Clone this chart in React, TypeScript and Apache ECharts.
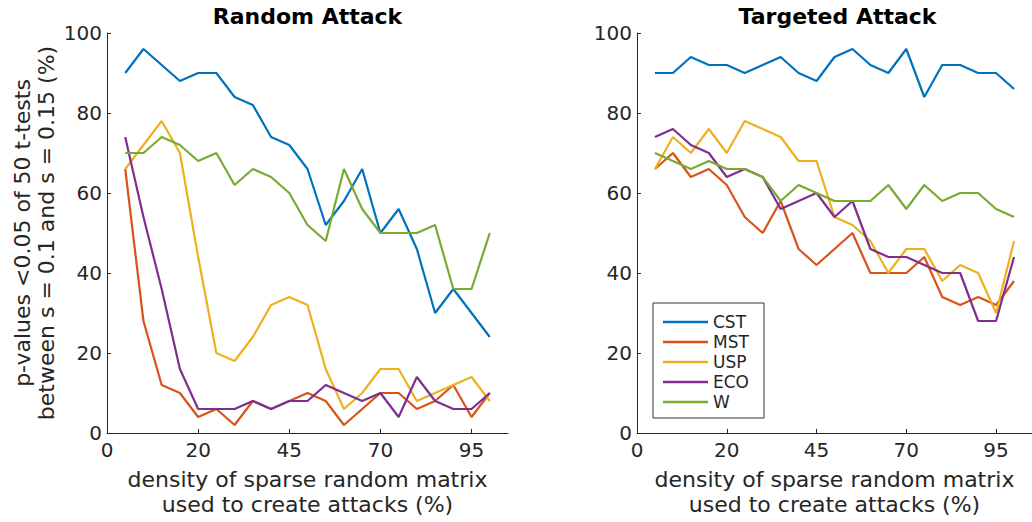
import React, { useEffect, useRef } from "react";
import * as echarts from "echarts";

// x positions of the 21 density steps (plotted on an index axis)
const xPos = [1, 2, 3, 4, 5, 6, 7, 8, 9, 10, 11, 12, 13, 14, 15, 16, 17, 18, 19, 20, 21];
const tickPos = [0, 5, 10, 15, 20];
const tickLabels = ["0", "20", "45", "70", "95"];

const methods = ["CST", "MST", "USP", "ECO", "W"];
const colors = ["#0072BD", "#D95319", "#EDB120", "#7E2F8E", "#77AC30"];

// Random attack
const randomCST = [90, 96, 92, 88, 90, 90, 84, 82, 74, 72, 66, 52, 58, 66, 50, 56, 46, 30, 36, 30, 24];
const randomMST = [66, 28, 12, 10, 4, 6, 2, 8, 6, 8, 10, 8, 2, 6, 10, 10, 6, 8, 12, 4, 10];
const randomUSP = [66, 72, 78, 70, 44, 20, 18, 24, 32, 34, 32, 16, 6, 10, 16, 16, 8, 10, 12, 14, 8];
const randomECO = [74, 54, 36, 16, 6, 6, 6, 8, 6, 8, 8, 12, 10, 8, 10, 4, 14, 8, 6, 6, 10];
const randomW = [70, 70, 74, 72, 68, 70, 62, 66, 64, 60, 52, 48, 66, 56, 50, 50, 50, 52, 36, 36, 50];

// Targeted attack
const targetCST = [90, 90, 94, 92, 92, 90, 92, 94, 90, 88, 94, 96, 92, 90, 96, 84, 92, 92, 90, 90, 86];
const targetMST = [66, 70, 64, 66, 62, 54, 50, 58, 46, 42, 46, 50, 40, 40, 40, 44, 34, 32, 34, 32, 38];
const targetUSP = [66, 74, 70, 76, 70, 78, 76, 74, 68, 68, 54, 52, 48, 40, 46, 46, 38, 42, 40, 30, 48];
const targetECO = [74, 76, 72, 70, 64, 66, 64, 56, 58, 60, 54, 58, 46, 44, 44, 42, 40, 40, 28, 28, 44];
const targetW = [70, 68, 66, 68, 66, 66, 64, 58, 62, 60, 58, 58, 58, 62, 56, 62, 58, 60, 60, 56, 54];

const randomData = [randomCST, randomMST, randomUSP, randomECO, randomW];
const targetData = [targetCST, targetMST, targetUSP, targetECO, targetW];

const yTitle = "p-values <0.05 of 50 t-tests\nbetween s = 0.1 and s = 0.15 (%)";
const xTitle = "density of sparse random matrix\nused to create attacks (%)";
const panelTitles = ["Random Attack", "Targeted Attack"];

const FONT = "DejaVu Sans";
const TXT = "#262626";

export default function App() {
  const ref = useRef<HTMLDivElement>(null);
  useEffect(() => {
    if (!ref.current) return;
    const chart = echarts.init(ref.current, null, { renderer: "svg" });
    const gridLefts = [107, 637];
    const mkX = (i: number) => ({
      type: "value",
      gridIndex: i,
      min: 0,
      max: 22,
      axisLine: { show: true, lineStyle: { color: TXT, width: 1 } },
      axisTick: { show: true, inside: true, length: 4, customValues: tickPos, lineStyle: { color: TXT } },
      axisLabel: {
        customValues: tickPos,
        formatter: (v: number) => tickLabels[tickPos.indexOf(v)] ?? "",
        color: TXT,
        fontFamily: FONT,
        fontSize: 20,
        margin: 7,
      },
      splitLine: { show: false },
      name: xTitle,
      nameLocation: "middle",
      nameGap: 34,
      nameTextStyle: { color: TXT, fontFamily: FONT, fontSize: 22, lineHeight: 25 },
    });
    const mkY = (i: number) => ({
      type: "value",
      gridIndex: i,
      min: 0,
      max: 100,
      interval: 20,
      axisLine: { show: true, lineStyle: { color: TXT, width: 1 } },
      axisTick: { show: true, inside: true, length: 4, lineStyle: { color: TXT } },
      axisLabel: { color: TXT, fontFamily: FONT, fontSize: 20, margin: 5 },
      splitLine: { show: false },
      ...(i === 0
        ? {
            name: yTitle,
            nameLocation: "middle",
            nameGap: 49,
            nameRotate: 90,
            nameTextStyle: { color: TXT, fontFamily: FONT, fontSize: 22, lineHeight: 24 },
          }
        : {}),
    });
    const series: any[] = [];
    [randomData, targetData].forEach((panel, p) => {
      panel.forEach((vals, k) => {
        series.push({
          type: "line",
          name: methods[k],
          xAxisIndex: p,
          yAxisIndex: p,
          data: xPos.map((x, j) => [x, vals[j]]),
          symbol: "none",
          lineStyle: { color: colors[k], width: 2.2 },
          itemStyle: { color: colors[k] },
        });
      });
    });
    chart.setOption({
      animation: false,
      backgroundColor: "#ffffff",
      grid: gridLefts.map((l) => ({ left: l, top: 33, width: 401, height: 400 })),
      xAxis: [mkX(0), mkX(1)],
      yAxis: [mkY(0), mkY(1)],
      legend: {
        data: methods,
        orient: "vertical",
        left: 653,
        top: 303,
        icon: "rect",
        itemWidth: 45,
        itemHeight: 2.5,
        itemGap: 0,
        padding: [9, 15, 6, 10],
        borderColor: "#333333",
        borderWidth: 1,
        backgroundColor: "#ffffff",
        selectedMode: false,
        textStyle: { color: TXT, fontFamily: FONT, fontSize: 17, lineHeight: 20, height: 20 },
      },
      graphic: panelTitles.map((t, i) => ({
        type: "text",
        x: gridLefts[i] + 200.5,
        y: 16,
        style: {
          text: t,
          textAlign: "center",
          textVerticalAlign: "middle",
          font: `bold 22px "${FONT}"`,
          fill: "#000000",
        },
      })),
      series,
    });
    return () => chart.dispose();
  }, []);
  return (
    <div
      ref={ref}
      style={{ position: "fixed", left: 0, top: 0, width: 1032, height: 522, background: "#fff" }}
    />
  );
}
